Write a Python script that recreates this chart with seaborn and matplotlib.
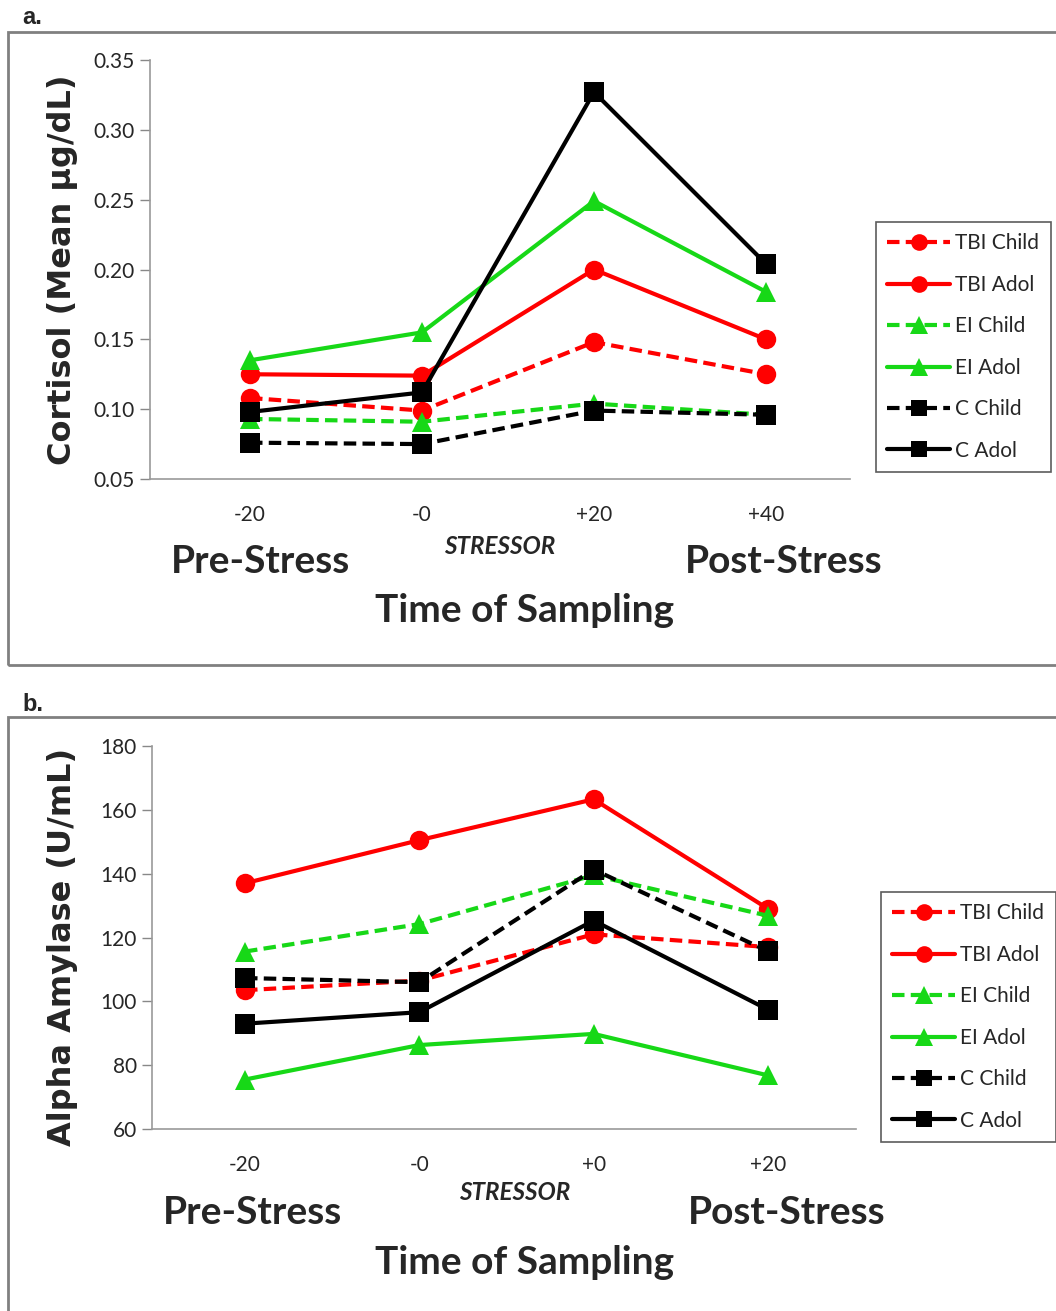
import numpy as np
import pandas as pd
import matplotlib
matplotlib.use("Agg")
import matplotlib.pyplot as plt
import seaborn as sns
from matplotlib.lines import Line2D
from matplotlib.patches import Rectangle

sns.set_style("white")
plt.rcParams['font.family'] = ['Lato', 'DejaVu Sans']

# datos
groups = ["TBI Child", "TBI Adol", "EI Child", "EI Adol", "C Child", "C Adol"]
colors = ["#ff0000", "#ff0000", "#17d817", "#17d817", "#000000", "#000000"]
dashed = [True, False, True, False, True, False]
markers = ["o", "o", "^", "^", "s", "s"]

ticks_a = ["-20", "-0", "+20", "+40"]
cortisol = {
    "TBI Child": [0.108, 0.099, 0.148, 0.125],
    "TBI Adol": [0.125, 0.124, 0.200, 0.150],
    "EI Child": [0.093, 0.091, 0.104, 0.096],
    "EI Adol": [0.135, 0.155, 0.249, 0.184],
    "C Child": [0.076, 0.075, 0.099, 0.096],
    "C Adol": [0.098, 0.112, 0.327, 0.204],
}

ticks_b = ["-20", "-0", "+0", "+20"]
amylase = {
    "TBI Child": [103.5, 106.5, 121.0, 117.0],
    "TBI Adol": [137.0, 150.5, 163.3, 129.0],
    "EI Child": [115.6, 124.2, 139.5, 126.8],
    "EI Adol": [75.5, 86.3, 89.8, 76.8],
    "C Child": [107.3, 106.0, 141.3, 115.7],
    "C Adol": [93.0, 96.6, 125.3, 97.4],
}

W, H = 1056, 1311
fig = plt.figure(figsize=(W / 100, H / 100), dpi=100)


def px_box(l, t, r, b):
    return [l / W, 1 - b / H, (r - l) / W, (b - t) / H]


def ftext(x, y, s, **kw):
    fig.text(x / W, 1 - y / H, s, ha="center", va="center", **kw)


def panel(data, ticklabs, box, xlim, ylim, yticks, fmt, ylabel, ylab_y,
          legbox, txt_y):
    ax = fig.add_axes(px_box(*box))
    for g, c, d, m in zip(groups, colors, dashed, markers):
        df = pd.DataFrame({"x": np.arange(4), "y": data[g]})
        sns.lineplot(data=df, x="x", y="y", ax=ax, color=c, marker=m,
                     markersize=14 if m != "^" else 15, markeredgewidth=0,
                     linewidth=3, linestyle=(0, (3, 1.5)) if d else "-")
    ax.set_xlim(*xlim)
    ax.set_ylim(*ylim)
    ax.set_yticks(yticks)
    ax.set_yticklabels([fmt.format(v) for v in yticks], fontsize=15)
    ax.set_xticks(range(4))
    ax.set_xticklabels(ticklabs, fontsize=15)
    ax.tick_params(axis="x", length=0, pad=19)
    ax.tick_params(axis="y", length=7, width=1, color="#888888", direction="out",
                   left=True, pad=4)
    for s in ["top", "right"]:
        ax.spines[s].set_visible(False)
    for s in ["left", "bottom"]:
        ax.spines[s].set_color("#999999")
        ax.spines[s].set_linewidth(1.2)
    ax.set_xlabel("")
    ax.set_ylabel("")

    ftext(63, ylab_y, ylabel, rotation=90, fontsize=23, fontweight="bold",
          family=["DejaVu Sans"])
    ftext(txt_y[0], txt_y[1], "STRESSOR", fontsize=17.5, fontweight="bold",
          style="italic")
    ftext(txt_y[2], txt_y[4], "Pre-Stress", fontsize=28, fontweight="bold")
    ftext(txt_y[3], txt_y[4], "Post-Stress", fontsize=28, fontweight="bold")
    ftext(525, txt_y[5], "Time of Sampling", fontsize=28, fontweight="bold")

    handles = [Line2D([0], [0], color=c, marker=m,
                      markersize=12 if m != "^" else 13,
                      markeredgewidth=0, linewidth=3,
                      linestyle=(0, (3, 1.5)) if d else "-")
               for c, d, m in zip(colors, dashed, markers)]
    leg = fig.legend(handles, groups, loc="upper left",
                     bbox_to_anchor=(legbox[0] / W, 1 - legbox[1] / H),
                     frameon=True, fancybox=False, fontsize=15,
                     handlelength=3.0, labelspacing=1.03, borderpad=0.55,
                     handletextpad=0.25, borderaxespad=0)
    leg.get_frame().set_edgecolor("#333333")
    leg.get_frame().set_linewidth(1.2)
    return ax


# marcos de los paneles
fig.patches.append(Rectangle((8 / W, 1 - 665 / H), 1.0, (665 - 32) / H,
                             transform=fig.transFigure, fill=False,
                             edgecolor="#808080", linewidth=2))
fig.patches.append(Rectangle((8 / W, 1 - 1320 / H), 1.0, (1320 - 717) / H,
                             transform=fig.transFigure, fill=False,
                             edgecolor="#808080", linewidth=2))
ftext(32, 17, "a.", fontsize=17, fontweight="bold", family=["Liberation Sans"])
ftext(33, 704, "b.", fontsize=17, fontweight="bold", family=["Liberation Sans"])

panel(cortisol, ticks_a, (150, 60, 850, 479),
      (-(250 - 150) / 172, 3 + (850 - 766) / 172), (0.05, 0.35),
      np.arange(0.05, 0.351, 0.05), "{:.2f}", "Cortisol (Mean µg/dL)", 270,
      (876, 222), (500, 547, 260, 784, 562, 611))

panel(amylase, ticks_b, (152, 746, 856, 1129),
      (-(245 - 152) / 174.3, 3 + (856 - 768) / 174.3), (60, 180),
      np.arange(60, 181, 20), "{:.0f}", "Alpha Amylase (U/mL)", 947,
      (881, 892), (515, 1192, 253, 787, 1213, 1263))

plt.savefig("out.png", dpi=100)
